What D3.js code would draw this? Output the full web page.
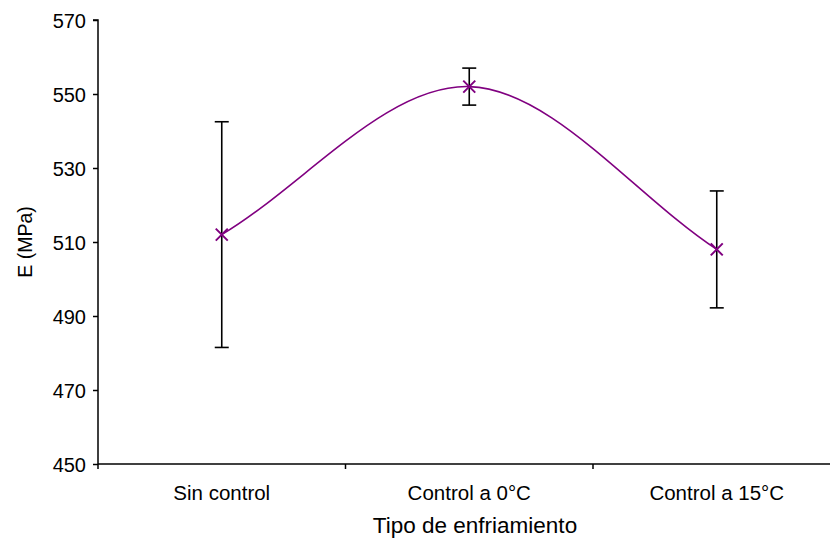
<!DOCTYPE html>
<html><head><meta charset="utf-8">
<script src="https://cdn.jsdelivr.net/npm/d3@7"></script>
<style>body{margin:0;background:#fff}svg{display:block}text{font-family:"Liberation Sans",Arial,sans-serif;fill:#000}</style>
</head><body><svg id="c" width="830" height="542"></svg>
<script>
const categories = ["Sin control", "Control a 0°C", "Control a 15°C"];
const values = [512, 552, 508];
const errors = [30.5, 5, 15.8];
const yTicks = [450, 470, 490, 510, 530, 550, 570];

const svg = d3.select("#c");
const m = {left: 98, top: 20, bottom: 78};
const W = 830, H = 542;
const x = d3.scaleBand().domain(categories).range([m.left, m.left + 742.5]).padding(0);
const y = d3.scaleLinear().domain([450, 570]).range([H - m.bottom, m.top]);

// y axis
const yAxis = d3.axisLeft(y).tickValues(yTicks).tickSize(5).tickFormat(d3.format("d"));
const gy = svg.append("g").attr("transform", `translate(${m.left},0)`).call(yAxis);
gy.select(".domain").attr("stroke", "#000").attr("stroke-width", 1.5).attr("d", `M-5,${y(570)}H0V${y(450)}`);
gy.selectAll(".tick line").attr("stroke-width", 1.5);
gy.selectAll(".tick text").attr("font-size", 20).attr("x", -12).attr("dy", "0.36em").attr("font-family", '"Liberation Sans",Arial,sans-serif');

// x axis
const gx = svg.append("g");
gx.append("line").attr("x1", m.left).attr("x2", W).attr("y1", y(450)).attr("y2", y(450)).attr("stroke", "#000").attr("stroke-width", 1.5);
categories.forEach(c => {
  gx.append("line").attr("x1", x(c)).attr("x2", x(c)).attr("y1", y(450)).attr("y2", y(450) + 5).attr("stroke", "#000").attr("stroke-width", 1.5);
  gx.append("text").attr("x", x(c) + x.bandwidth() / 2).attr("y", y(450) + 36).attr("text-anchor", "middle").attr("font-size", 20.5).text(c);
});

svg.append("text").attr("x", 475).attr("y", 533).attr("text-anchor", "middle").attr("font-size", 22.5).text("Tipo de enfriamiento");
svg.append("text").attr("transform", `translate(32,${y(510)}) rotate(-90)`).attr("text-anchor", "middle").attr("font-size", 19.5).text("E (MPa)");

const cx = c => x(c) + x.bandwidth() / 2;

// error bars
categories.forEach((c, i) => {
  const g = svg.append("g").attr("stroke", "#000").attr("stroke-width", 1.6);
  g.append("line").attr("x1", cx(c)).attr("x2", cx(c)).attr("y1", y(values[i] + errors[i])).attr("y2", y(values[i] - errors[i]));
  [values[i] + errors[i], values[i] - errors[i]].forEach(v => {
    g.append("line").attr("x1", cx(c) - 7).attr("x2", cx(c) + 7).attr("y1", y(v)).attr("y2", y(v));
  });
});

// smoothed line (spreadsheet-style Bezier smoothing)
const pts = values.map((v, i) => [cx(categories[i]), y(v)]);
const p = d3.path();
p.moveTo(pts[0][0], pts[0][1]);
const tan = i => {
  const n = pts.length;
  if (i === 0) return [(pts[1][0] - pts[0][0]) / 3, (pts[1][1] - pts[0][1]) / 3];
  if (i === n - 1) return [(pts[n - 1][0] - pts[n - 2][0]) / 3, (pts[n - 1][1] - pts[n - 2][1]) / 3];
  return [(pts[i + 1][0] - pts[i - 1][0]) / 6, (pts[i + 1][1] - pts[i - 1][1]) / 6];
};
for (let i = 0; i < pts.length - 1; i++) {
  const t0 = tan(i), t1 = tan(i + 1);
  p.bezierCurveTo(pts[i][0] + t0[0], pts[i][1] + t0[1], pts[i + 1][0] - t1[0], pts[i + 1][1] - t1[1], pts[i + 1][0], pts[i + 1][1]);
}
svg.append("path").attr("d", p.toString()).attr("fill", "none").attr("stroke", "#800080").attr("stroke-width", 1.6);

// markers
categories.forEach((c, i) => {
  const px = cx(c), py = y(values[i]), s = 6;
  svg.append("path").attr("d", `M${px - s},${py - s}L${px + s},${py + s}M${px - s},${py + s}L${px + s},${py - s}`)
    .attr("stroke", "#800080").attr("stroke-width", 2).attr("fill", "none");
});
</script></body></html>
